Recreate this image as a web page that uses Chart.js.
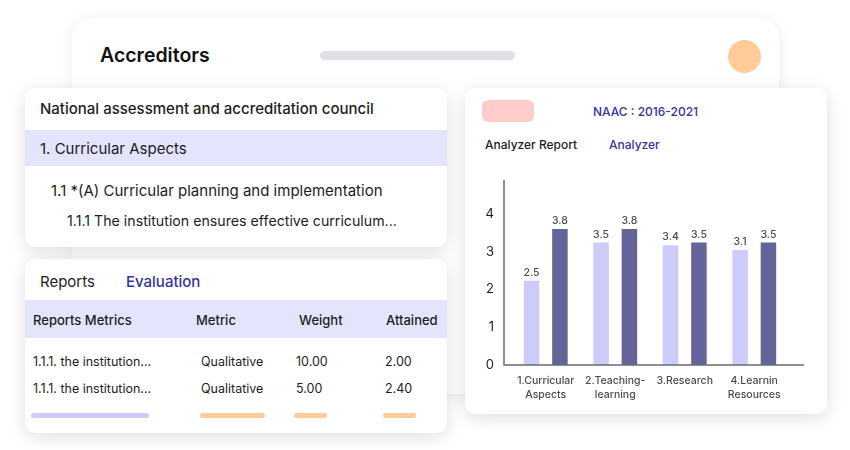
<!DOCTYPE html>
<html>
<head>
<meta charset="utf-8">
<script src="https://cdn.jsdelivr.net/npm/chart.js@4.4.1/dist/chart.umd.min.js"></script>
<style>
  html, body { margin: 0; padding: 0; }
  body { width: 850px; height: 450px; background: #fff; position: relative; overflow: hidden;
         font-family: "Inter", "Open Sans", sans-serif; color: #1d1d1d; }
  .card { position: absolute; background: #fff; border-radius: 10px; box-shadow: 0 4px 18px rgba(0,0,0,0.13); overflow: hidden; }
  .abs { position: absolute; white-space: nowrap; }
  .blue { color: #33339a; }
  .band { position: absolute; left: 0; right: 0; background: #e4e4fc; }
  .pill { position: absolute; border-radius: 3px; height: 5px; }
</style>
</head>
<body>

<!-- back card -->
<div class="card" style="left:72px; top:18px; width:707px; height:376px; border-radius:20px; box-shadow:0 2px 16px rgba(0,0,0,0.08);">
  <div class="abs" style="left:28px; top:25px; font-size:19.5px; font-weight:600; color:#111;">Accreditors</div>
  <div class="abs" style="left:248px; top:33px; width:195px; height:9px; border-radius:5px; background:#dfdfe6;"></div>
  <div class="abs" style="left:656px; top:22px; width:33px; height:33px; border-radius:50%; background:#ffcc99;"></div>
</div>

<!-- criteria card -->
<div class="card" style="left:25px; top:88px; width:422px; height:159px;">
  <div class="abs" style="left:15px; top:11px; font-size:15px; font-weight:500;">National assessment and accreditation council</div>
  <div class="band" style="top:42px; height:36px;"></div>
  <div class="abs" style="left:15px; top:51px; font-size:15px;">1. Curricular Aspects</div>
  <div class="abs" style="left:26px; top:93px; font-size:15px;">1.1 *(A) Curricular planning and implementation</div>
  <div class="abs" style="left:42px; top:124px; font-size:14.2px;">1.1.1 The institution ensures effective curriculum...</div>
</div>

<!-- reports card -->
<div class="card" style="left:25px; top:259px; width:422px; height:174px;">
  <div class="abs" style="left:15px; top:13px; font-size:15px;">Reports</div>
  <div class="abs blue" style="left:101px; top:13px; font-size:15px; font-weight:500;">Evaluation</div>
  <div class="band" style="top:41px; height:38px;"></div>
  <div class="abs" style="left:8px; top:53px; font-size:13px; font-weight:500;">Reports Metrics</div>
  <div class="abs" style="left:171px; top:53px; font-size:13px; font-weight:500;">Metric</div>
  <div class="abs" style="left:274px; top:53px; font-size:13px; font-weight:500;">Weight</div>
  <div class="abs" style="left:361px; top:53px; font-size:13px; font-weight:500;">Attained</div>

  <div class="abs" style="left:8px; top:95px; font-size:12.5px;">1.1.1. the institution...</div>
  <div class="abs" style="left:176px; top:95px; font-size:12.5px;">Qualitative</div>
  <div class="abs" style="left:271px; top:95px; font-size:12.5px;">10.00</div>
  <div class="abs" style="left:360px; top:95px; font-size:12.5px;">2.00</div>

  <div class="abs" style="left:8px; top:122px; font-size:12.5px;">1.1.1. the institution...</div>
  <div class="abs" style="left:176px; top:122px; font-size:12.5px;">Qualitative</div>
  <div class="abs" style="left:271px; top:122px; font-size:12.5px;">5.00</div>
  <div class="abs" style="left:360px; top:122px; font-size:12.5px;">2.40</div>

  <div class="pill" style="left:6px; top:154px; width:118px; background:#cccbfa;"></div>
  <div class="pill" style="left:175px; top:154px; width:65px; background:#ffcc99;"></div>
  <div class="pill" style="left:269px; top:154px; width:33px; background:#ffcc99;"></div>
  <div class="pill" style="left:358px; top:154px; width:33px; background:#ffcc99;"></div>
</div>

<!-- analyzer card -->
<div class="card" style="left:465px; top:88px; width:362px; height:326px;">
  <div class="abs" style="left:17px; top:12px; width:52px; height:22px; border-radius:6px; background:#ffcccc;"></div>
  <div class="abs blue" style="left:128px; top:16px; font-size:12px; font-weight:500;">NAAC : 2016-2021</div>
  <div class="abs" style="left:20px; top:49px; font-size:12px; font-weight:500;">Analyzer Report</div>
  <div class="abs blue" style="left:144px; top:49px; font-size:12px; font-weight:500;">Analyzer</div>
</div>

<div class="abs" style="left:470px; top:155px; width:350px; height:255px;">
  <canvas id="chart"></canvas>
</div>

<script>
// chart data
const categories = [['1.Curricular', 'Aspects'], ['2.Teaching-', 'learning'], ['3.Research'], ['4.Learnin', 'Resources']];
const lightValues = [2.23, 3.24, 3.17, 3.04];
const darkValues = [3.6, 3.6, 3.24, 3.24];
// numbers printed over the bars
const lightLabels = ['2.5', '3.5', '3.4', '3.1'];
const darkLabels = ['3.8', '3.8', '3.5', '3.5'];
const yTicks = [0, 1, 2, 3, 4];

// axis lines a bit longer than the plot area, like the picture
const axisLines = {
    id: 'axisLines',
    afterDraw(chart) {
        const { ctx, chartArea } = chart;
        ctx.save();
        ctx.strokeStyle = '#6b6b70';
        ctx.lineWidth = 1.5;
        ctx.beginPath();
        ctx.moveTo(chartArea.left - 7, chartArea.top);
        ctx.lineTo(chartArea.left - 7, chartArea.bottom);
        ctx.lineTo(chartArea.right + 15, chartArea.bottom);
        ctx.stroke();
        ctx.restore();
    }
};

// value labels above each bar
const barLabels = {
    id: 'barLabels',
    afterDatasetsDraw(chart) {
        const { ctx } = chart;
        const texts = [lightLabels, darkLabels];
        ctx.save();
        ctx.fillStyle = '#4a4a55';
        ctx.font = '500 10.5px Inter, sans-serif';
        ctx.textAlign = 'center';
        ctx.textBaseline = 'middle';
        chart.data.datasets.forEach((ds, i) => {
            chart.getDatasetMeta(i).data.forEach((bar, j) => {
                ctx.fillText(texts[i][j], bar.x, bar.y - 8);
            });
        });
        ctx.restore();
    }
};

new Chart(document.getElementById('chart'), {
    type: 'bar',
    data: {
        labels: categories,
        datasets: [
            {
                data: lightValues,
                backgroundColor: '#cccbfa',
                categoryPercentage: 0.816,
                barPercentage: 0.546,
            },
            {
                data: darkValues,
                backgroundColor: '#64639a',
                categoryPercentage: 0.816,
                barPercentage: 0.546,
            },
        ],
    },
    options: {
        responsive: true,
        maintainAspectRatio: false,
        animation: false,
        layout: { padding: { top: 10, right: 31, left: 0, bottom: 0 } },
        plugins: { legend: { display: false }, tooltip: { enabled: false } },
        scales: {
            x: {
                grid: { display: false, drawTicks: false },
                border: { display: false },
                ticks: {
                    color: '#4a4a52',
                    padding: 8,
                    maxRotation: 0,
                    autoSkip: false,
                    font: { family: 'Inter', size: 10.5, weight: '500', lineHeight: 1.4 },
                },
                afterFit: (scale) => { scale.height = 45; },
            },
            y: {
                min: 0,
                max: 4.9,
                grid: { display: false, drawTicks: false },
                border: { display: false },
                afterBuildTicks: (scale) => { scale.ticks = yTicks.map(v => ({ value: v })); },
                ticks: {
                    color: '#1d1d1d',
                    padding: 17,
                    font: { family: 'Inter', size: 13 },
                },
                afterFit: (scale) => { scale.width = 41; },
            },
        },
    },
    plugins: [axisLines, barLabels],
});
</script>
</body>
</html>
